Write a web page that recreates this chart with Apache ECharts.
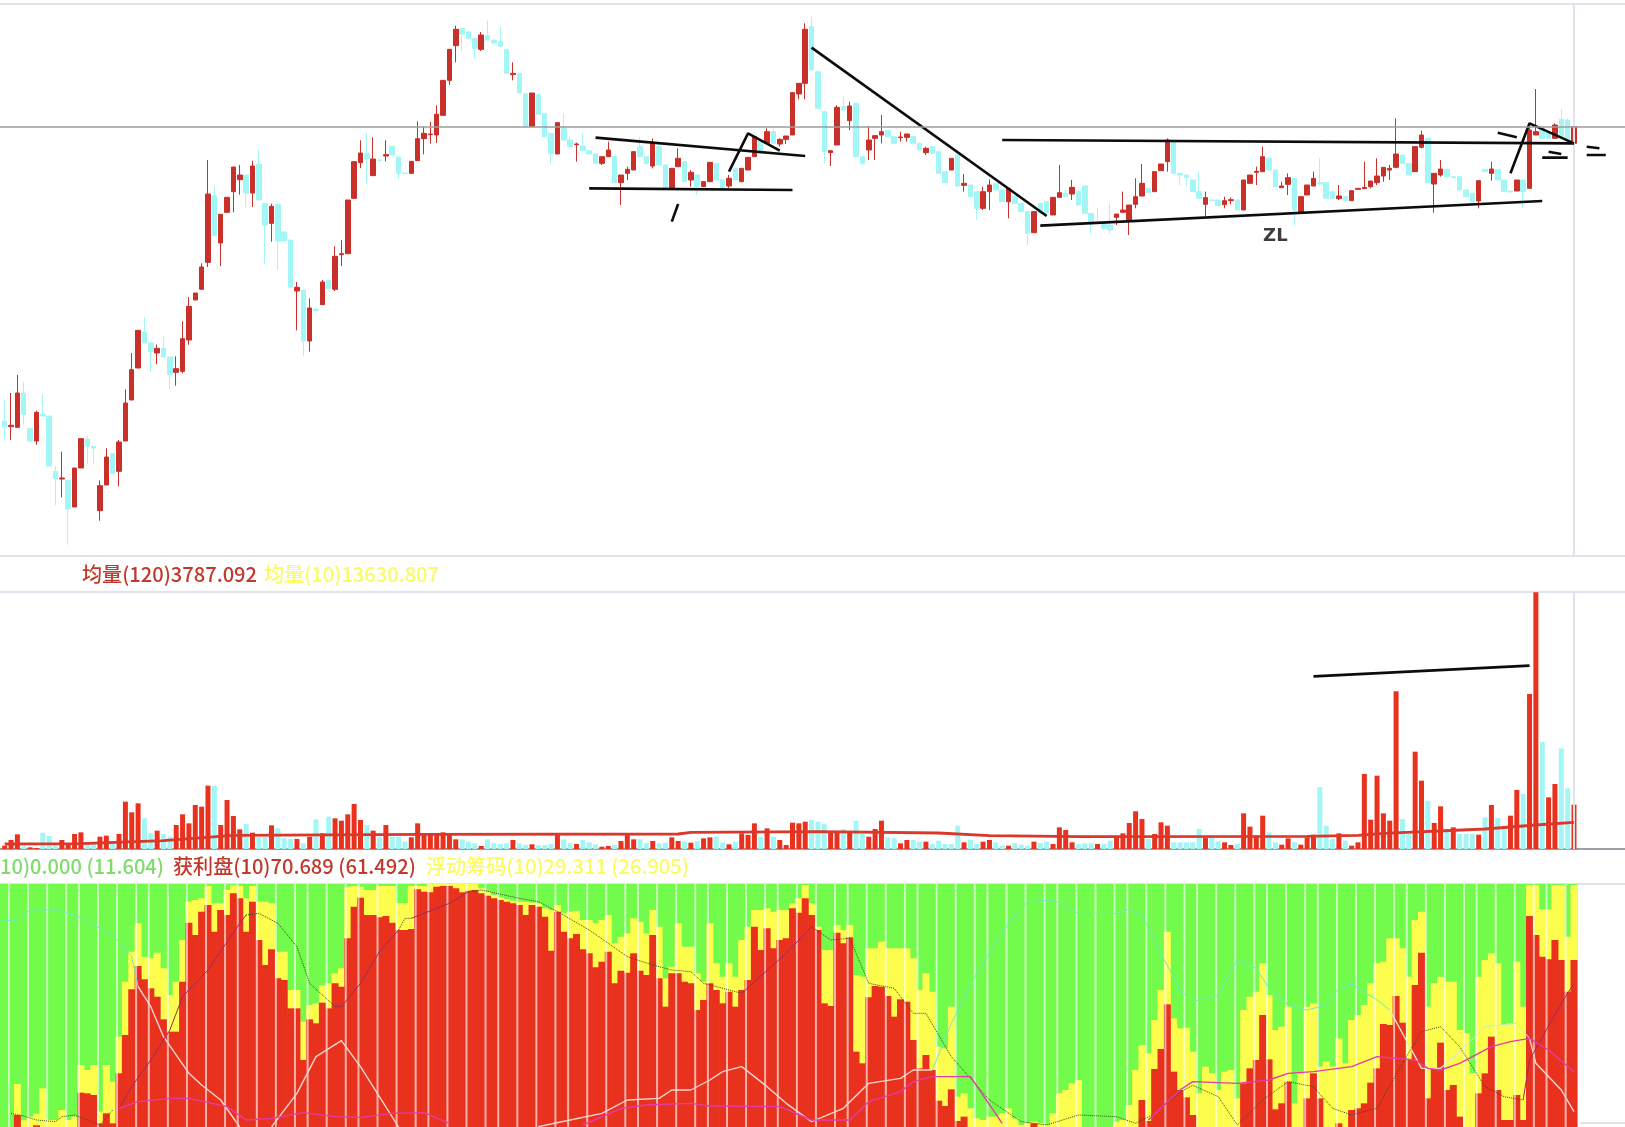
<!DOCTYPE html>
<html>
<head>
<meta charset="utf-8">
<style>
html,body{margin:0;padding:0;background:#fff;overflow:hidden}
#c{width:1625px;height:1127px;filter:blur(0.75px)}
</style>
<script src="https://cdn.jsdelivr.net/npm/echarts@6/dist/echarts.min.js"></script>
</head>
<body>
<div id="c"></div>
<script>
// open, close, low, high
const candles = [
[401,385,347,465],[385,389,345,486],[383,486,383,540],[486,422,390,519],[379,342,342,379],[342,428,331,433],[422,417,417,481],[417,267,267,417],[251,229,149,267],[228,231,173,310],
[224,138,31,224],[144,261,144,261],[261,349,261,349],[347,326,272,358],[326,321,272,326],[133,208,103,224],[210,294,210,320],[304,245,245,304],[251,339,206,345],[342,456,342,497],
[465,556,465,606],[561,674,561,674],[669,636,636,714],[636,610,549,636],[606,620,572,631],[620,594,594,658],[594,542,497,594],[548,559,508,596],[551,649,545,701],[645,746,631,774],
[765,786,765,786],[797,864,797,875],[878,1083,864,1185],[1078,958,958,1108],[936,1022,867,1022],[1028,1073,1028,1073],[1090,1164,1028,1164],[1126,1140,1081,1170],[1140,1086,1044,1140],[1086,1167,1044,1183],
[1172,1065,1065,1215],[1054,990,872,1054],[995,1046,940,1054],[1052,942,856,1052],[969,942,942,969],[945,803,803,945],[792,803,674,819],[795,642,596,795],[642,741,610,770],[738,733,733,738],
[751,819,751,825],[824,799,799,824],[797,896,792,926],[901,904,867,945],[904,1065,904,1065],[1070,1180,1070,1180],[1177,1206,1161,1244],[1204,1188,1113,1266],[1138,1188,1138,1253],[1185,1183,1183,1185],
[1197,1201,1181,1244],[1226,1200,1200,1226],[1194,1145,1129,1194],[1146,1144,1144,1146],[1145,1181,1145,1181],[1183,1249,1183,1301],[1249,1265,1202,1285],[1261,1263,1234,1299],[1260,1322,1236,1349],[1319,1424,1319,1424],
[1424,1517,1410,1517],[1528,1577,1478,1588],[1579,1563,1510,1579],[1569,1550,1550,1569],[1550,1520,1488,1550],[1517,1560,1512,1569],[1558,1545,1545,1603],[1545,1536,1536,1545],[1540,1526,1526,1585],[1517,1445,1445,1517],
[1441,1445,1424,1478],[1445,1386,1386,1445],[1384,1285,1285,1384],[1285,1386,1285,1386],[1381,1322,1322,1381],[1325,1255,1255,1325],[1265,1205,1175,1265],[1203,1297,1203,1297],[1285,1245,1245,1325],[1245,1225,1225,1255],
[1231,1233,1180,1237],[1227,1213,1213,1265],[1213,1203,1203,1213],[1203,1175,1175,1203],[1175,1195,1170,1195],[1195,1215,1195,1240],[1195,1117,1117,1195],[1117,1140,1050,1140],[1145,1157,1125,1165],[1155,1210,1155,1210],
[1225,1195,1195,1255],[1195,1175,1175,1195],[1167,1235,1160,1250],[1225,1170,1170,1235],[1170,1100,1100,1170],[1100,1160,1095,1160],[1165,1190,1165,1220],[1180,1120,1120,1180],[1125,1148,1105,1155],[1140,1105,1080,1140],
[1105,1120,1105,1120],[1120,1178,1120,1178],[1175,1125,1125,1175],[1125,1100,1100,1125],[1107,1130,1100,1140],[1160,1125,1125,1160],[1120,1160,1120,1160],[1155,1193,1155,1193],[1195,1255,1195,1255],[1245,1205,1205,1245],
[1235,1270,1235,1280],[1270,1235,1235,1285],[1233,1247,1225,1250],[1247,1257,1233,1257],[1260,1387,1260,1387],[1383,1415,1367,1415],[1415,1577,1367,1595],[1585,1455,1455,1615],[1450,1340,1340,1450],[1330,1210,1175,1330],
[1207,1213,1167,1213],[1230,1343,1230,1350],[1345,1335,1335,1375],[1303,1347,1275,1360],[1355,1195,1195,1355],[1195,1175,1170,1195],[1215,1245,1185,1287],[1250,1258,1185,1258],[1260,1270,1235,1320],[1273,1255,1255,1273],
[1255,1235,1235,1255],[1252,1254,1240,1270],[1253,1263,1240,1263],[1255,1235,1235,1255],[1235,1215,1215,1235],[1207,1220,1200,1225],[1225,1205,1205,1225],[1210,1145,1145,1210],[1150,1117,1117,1150],[1155,1190,1155,1190],
[1200,1107,1107,1200],[1109,1115,1090,1143],[1110,1075,1075,1110],[1090,1040,1005,1090],[1040,1090,1035,1105],[1090,1110,1035,1127],[1115,1095,1095,1115],[1095,1060,1060,1095],[1060,1100,1010,1100],[1075,1055,1055,1075],
[1055,1030,1030,1055],[1030,965,930,1030],[967,1030,967,1030],[1055,1025,1025,1055],[1060,1025,1025,1060],[1020,1073,1020,1073],[1073,1087,1073,1170],[1085,1075,1075,1095],[1083,1103,1065,1125],[1090,1050,1050,1095],
[1107,1025,1025,1107],[1025,995,965,1025],[1000,995,995,1040],[995,980,975,995],[990,975,965,1055],[1013,1023,990,1023],[1028,1035,1028,1090],[1005,1050,960,1050],[1052,1075,1040,1130],[1077,1115,1077,1173],
[1100,1088,1088,1100],[1090,1150,1090,1150],[1153,1173,1153,1173],[1180,1245,1150,1250],[1240,1145,1145,1240],[1145,1140,1110,1145],[1140,1133,1107,1140],[1125,1090,1090,1125],[1090,1070,1070,1150],[1052,1072,1017,1090],
[1065,1063,1063,1065],[1065,1048,1048,1065],[1051,1063,1040,1075],[1063,1066,1052,1073],[1065,1035,1035,1065],[1035,1125,1035,1125],[1115,1140,1115,1140],[1148,1151,1110,1165],[1150,1195,1150,1225],[1190,1155,1155,1190],
[1155,1105,1105,1155],[1102,1107,1102,1120],[1112,1132,1080,1145],[1130,1035,990,1130],[1027,1075,1027,1075],[1080,1110,1080,1110],[1107,1130,1107,1150],[1117,1113,1113,1190],[1117,1070,1070,1117],[1090,1070,1070,1090],
[1069,1077,1065,1110],[1075,1063,1063,1075],[1063,1093,1063,1093],[1097,1100,1097,1100],[1099,1103,1099,1180],[1105,1122,1100,1122],[1117,1137,1110,1190],[1137,1163,1120,1163],[1155,1160,1125,1170],[1163,1203,1160,1310],
[1200,1175,1175,1200],[1175,1140,1140,1175],[1150,1225,1150,1225],[1223,1260,1220,1273],[1250,1117,1117,1250],[1113,1145,1027,1145],[1140,1158,1135,1185],[1157,1135,1135,1157],[1135,1132,1132,1135],[1135,1095,1095,1135],
[1095,1075,1075,1095],[1085,1060,1060,1085],[1062,1123,1040,1123],[1157,1150,1150,1157],[1145,1158,1123,1180],[1157,1125,1125,1157],[1125,1090,1090,1125],[1092,1089,1089,1092],[1092,1125,1092,1125],[1125,1090,1040,1125],
[1100,1275,1100,1290],[1260,1270,1260,1398],[1280,1250,1250,1280],[1270,1250,1250,1270],[1250,1290,1250,1295],[1307,1250,1250,1337],[1305,1235,1235,1310],[1235,1285,1235,1285]
];
const volumes = [
10,27,44,8,5,3,49,39,15,27, 15,45,50,18,20,37,40,20,45,142, 110,137,92,47,55,45,37,72,104,77,
132,127,190,190,72,147,99,59,75,49, 35,37,71,62,32,30,30,17,37,89, 47,97,92,85,104,135,87,72,55,37,
72,37,37,22,35,77,42,47,44,50, 42,29,29,22,17,9,29,17,15,17, 27,17,12,14,12,12,15,42,29,17,
15,27,20,14,7,9,12,24,42,29, 29,17,24,17,19,35,24,22,19,24, 32,35,37,19,14,22,47,42,77,37,
62,37,27,12,79,77,82,87,82,75, 50,50,60,53,85,45,37,60,85,35, 32,17,27,27,22,22,15,25,15,15,
70,20,27,15,22,27,20,10,10,18, 13,10,22,18,22,15,65,57,20,15, 17,17,15,15,25,35,47,78,113,90,
30,45,80,70,20,20,20,20,60,33, 40,23,20,12,15,107,67,40,100,50, 20,13,32,20,13,35,43,185,70,30,
47,25,10,20,225,88,220,107,85,473, 90,45,292,205,145,78,128,60,65,45, 45,45,43,95,132,93,60,100,177,165,
465,770,322,155,195,302,182,133
];
// bars whose volume is drawn red; every other one is cyan
const volumeRedIdx = [0,1,2,4,5,9,10,11,12,15,16,18,19,20,21,24,27,28,29,30,31,32,34,35,36,37,39,42,46,48,50,52,53,54,55,56,58,60,64,65,66,67,68,69,70,71,75,80,83,87,90,94,95,97,98,99,102,105,106,108,110,111,114,116,117,118,120,122,123,124,125,126,130,131,133,136,137,138,141,142,145,151,154,155,158,162,165,166,167,168,172,175,176,177,178,179,181,182,183,189,192,193,195,196,197,198,201,202,204,205,206,210,212,213,214,215,216,217,218,219,222,223,225,226,228,232,234,237,238,240,241,243,244,247];
const volumeMa120 = [[0,15],[12,16],[25,25],[36,41],[66,44],[106,45],[108,50],[128,52],[147,48],[155,40],[169,37],[205,38],[213,41],[217,47],[233,60],[241,72],[247,80]];

const profitChips = [
0,0,36,0,0,5,0,0,0,0, 0,0,103,101,96,11,41,11,161,276, 413,483,443,416,391,323,286,286,436,613,
576,646,666,586,651,636,701,686,586,676, 561,486,533,446,441,356,356,201,323,311, 373,356,431,421,566,661,688,636,636,629,
633,613,591,591,594,713,706,704,721,723, 723,716,704,709,711,701,694,686,681,676, 671,666,636,666,661,631,529,646,586,566,
579,533,521,479,496,526,431,469,463,521, 469,456,576,446,361,461,461,436,431,351, 381,431,411,371,406,361,411,441,601,531,
596,536,561,566,656,643,686,636,591,371, 363,583,551,569,226,191,389,423,421,393, 331,383,376,261,176,216,171,79,63,113,
18,31,0,0,0,0,0,0,0,0, 0,0,11,0,0,0,0,0,0,0, 0,0,0,0,0,0,0,0,0,81,
18,174,234,368,166,111,89,36,0,0, 0,0,0,0,0,131,176,201,336,203, 53,71,136,0,0,86,161,86,0,0,
11,0,51,56,71,133,176,309,306,393, 313,204,426,523,86,176,253,111,126,31, 0,0,101,161,271,111,21,21,96,21,
633,576,511,503,561,501,406,501
];
const profitPlusFloating = [
0,0,129,20,31,40,116,21,21,51, 21,31,186,171,186,46,186,136,271,436, 526,611,511,506,523,476,396,436,561,676,
681,686,723,671,671,711,726,723,686,723, 676,676,671,526,526,411,411,316,366,371, 426,431,461,476,721,723,721,711,711,723,
723,723,671,671,723,723,723,729,729,729, 729,729,729,729,729,716,706,696,689,683, 679,676,676,673,671,656,651,666,641,646,
649,621,621,611,621,636,551,571,581,626, 616,581,651,601,446,481,611,541,541,461, 436,611,491,451,491,451,561,601,651,651,
656,646,651,651,671,686,726,671,601,531, 531,606,591,606,456,451,536,536,556,536, 536,536,536,506,411,461,406,241,236,361,
91,101,56,26,21,31,31,41,56,26, 6,11,16,11,6,41,101,111,131,141, 0,0,0,0,0,16,21,66,171,246,
221,321,411,586,326,296,298,226,101,181, 161,111,166,171,86,351,391,406,491,396, 291,301,361,71,161,361,371,181,196,181,
266,191,321,336,366,431,491,496,566,566, 536,451,621,646,361,431,451,436,436,291, 281,161,451,501,521,491,306,311,496,361,
726,726,653,653,726,726,571,726
];
const stripeBars = [1,4,7,10,12,15,18,21,23,26,29,32,35,37,40,43,46,48,51,54,56,59,62,65,67,70,73,76,78,81,84,87,89,92,95,98,100,103,106,109,111,114,117,120,122,125,128,131,133,136,139,142,144,147,150,153,155,158,161,164,166,169,172,175,177,180,183,186,188,191,194,197,199,202,205,207,210,213,216,219,221,224,227,230,232,235,238,241,243,246];

const trappedMaA = [[0,619],[2,621],[4,651],[8,651],[11,636],[15,596],[17,576],[20,511],[21,421]];
const trappedMaB = [[146,171],[149,311],[153,461],[158,611],[161,676],[165,681],[169,641],[175,641],[177,653],[179,636],[182,521],[185,411],[187,376],[191,396],[194,501],[197,476],[199,416],[202,366],[205,351],[208,366],[210,416],[212,429],[216,381],[218,351]];
const trappedMaC = [[229,226],[233,301],[238,311],[240,266]];
const whiteMaA = [[21,421],[23,361],[25,271],[29,161],[31,126],[34,81],[37,0]];
const whiteMaB = [[42,0],[46,101],[49,211],[53,259],[56,181],[62,0]];
const whiteMaC = [[84,1],[89,21],[94,41],[98,81],[103,86],[105,111],[108,111],[111,141],[113,166],[116,181],[120,121],[123,71],[127,16],[132,56],[136,131],[141,146],[143,171],[146,171]];
const whiteMaD = [[218,351],[222,211],[223,176],[226,176],[229,226]];
const whiteMaE = [[240,266],[241,191],[245,111],[247,46]];
const darkMaA = [[1,41],[3,33],[5,21],[8,16],[9,31],[11,36],[15,6],[17,51]];
const darkMaB = [[38,636],[40,641],[43,611],[46,541],[48,431],[52,361]];
const darkMaC = [[62,591],[63,626],[64,626]];
const darkMaD = [[73,706],[75,711],[81,686],[84,676],[87,646],[92,591],[98,511],[102,486],[105,471],[108,466],[110,431],[114,411],[116,401]];
const darkMaE = [[127,601],[130,561],[133,566],[136,431],[140,416],[143,341],[145,341],[149,211],[155,81],[160,16],[164,6],[169,36],[175,31],[178,11],[181,40],[185,105],[187,125],[191,91],[194,6],[198,81],[202,136],[206,121],[209,56],[212,36],[216,56],[220,191],[223,286],[226,301],[229,241],[233,121],[236,91],[239,81]];
const purpleMaA = [[18,56],[20,121],[23,201],[26,291],[28,391],[32,471],[37,611],[38,636]];
const purpleMaB = [[52,361],[53,361],[56,431],[59,526],[62,591]];
const purpleMaC = [[64,626],[70,671],[73,706]];
const purpleMaD = [[116,401],[123,521],[127,601]];
const purpleMaE = [[239,81],[240,201],[245,371],[247,431]];
const magentaMaA = [[18,56],[21,76],[26,86],[29,86],[35,61],[38,21],[42,26],[47,43],[52,31],[56,29],[61,41],[66,43],[70,11]];
const magentaMaB = [[91,6],[97,56],[101,66],[108,71],[111,63],[122,61],[127,21],[133,21],[136,76],[141,106],[143,136],[146,151],[152,151],[157,11]];
const magentaMaC = [[180,21],[185,111],[187,136],[194,131],[199,141],[202,161],[206,166],[212,181],[216,211],[222,201],[224,176],[226,171],[229,191],[234,241],[237,256],[240,266],[243,231],[247,166]];

const priceLevel = 1284;
const flagUpper = [[93,1252],[126,1197]];
const flagLower = [[92,1100],[124,1095]];
const flagSwing = [[114,1150],[117,1265],[122,1213]];
const flagMark = [[105,1000],[106,1053]];
const declineLine = [[127,1522],[164,1017]];
const rangeUpper = [[157,1245],[247,1235]];
const rangeLower = [[163,988],[242,1062]];
const endSwing = [[237,1145],[240,1295],[247,1235]];
const endTick = [[235,1267],[238,1253]];
const markEqA1 = [[243,1210],[245,1203]];
const markEqA2 = [[242,1192],[246,1192]];
const markEqB1 = [[249,1225],[251,1220]];
const markEqB2 = [[249,1200],[252,1200]];
const volumeTrend = [[206,518],[240,550]];
const zlLabel = [[200,955,'ZL']];

const categories = Array.from({length:256}, (_,i)=>'D'+i);
const RED='#c9302a', BARRED='#e8321e', CYAN='#a3f6f6', GREEN='#72fb4a', YELLOW='#fdfd4e';
const EDGE='#dfe3ec';
const redSet = new Set(volumeRedIdx);
const xAxisBase = i => ({type:'category',gridIndex:i,data:categories,boundaryGap:true,
  axisLabel:{show:false},axisTick:{show:false},splitLine:{show:false},axisLine:{show:false}});
const yAxisBase = (i,max) => ({type:'value',gridIndex:i,min:0,max:max,show:false,splitLine:{show:false}});
const stroke = (data,x,color,width,dash,z) => ({type:'line',xAxisIndex:x,yAxisIndex:x,data:data,showSymbol:false,silent:true,
  z:z||6,lineStyle:{color:color,width:width,type:dash||'solid'},itemStyle:{color:color},animation:false});
const ma = (data,color,dash,w) => stroke(data,2,color,w||1,dash,5);
const ink = data => stroke(data,0,'#0c0c0c',2.6,'solid',8);

const chart = echarts.init(document.getElementById('c'),null,{renderer:'canvas'});
const fam = '"Noto Sans CJK SC","Noto Sans",sans-serif';
const ttl = (text,left,top,color) => ({text,left,top,textStyle:{color,fontSize:20.1,fontWeight:500,fontFamily:fam},padding:0});
chart.setOption({
  animation:false,
  backgroundColor:'#ffffff',
  title:[
    ttl('均量(120)3787.092',82,564,'#c2392c'),
    ttl('均量(10)13630.807',264,564,'#fbfb62'),
    ttl('10)0.000 (11.604)',0,856,'#7fdc6c'),
    ttl('获利盘(10)70.689 (61.492)',173,856,'#c2392c'),
    ttl('浮动筹码(10)29.311 (26.905)',426,856,'#fbfb62')
  ],
  grid:[
    {left:1.5,width:1626.5,top:4,height:551,outerBoundsMode:'none'},
    {left:1.5,width:1626.5,top:592,height:257,outerBoundsMode:'none'},
    {left:1.5,width:1626.5,top:884,height:243,outerBoundsMode:'none'}
  ],
  xAxis:[xAxisBase(0),xAxisBase(1),xAxisBase(2)],
  yAxis:[yAxisBase(0,1653),yAxisBase(1,771),yAxisBase(2,729)],
  series:[
    {type:'candlestick',xAxisIndex:0,yAxisIndex:0,data:candles,barWidth:5,z:3,
      itemStyle:{color:RED,color0:CYAN,borderColor:RED,borderColor0:CYAN,borderWidth:1},
      markLine:{silent:true,symbol:'none',label:{show:false},animation:false,
        data:[{xAxis:categories[247],lineStyle:{color:EDGE,width:2,type:'solid'}}]}},
    ink(flagUpper),ink(flagLower),ink(flagSwing),ink(flagMark),ink(declineLine),ink(rangeUpper),ink(rangeLower),ink(endSwing),ink(endTick),
    ink(markEqA1),ink(markEqA2),ink(markEqB1),ink(markEqB2),
    {type:'scatter',xAxisIndex:0,yAxisIndex:0,data:zlLabel,symbolSize:0,silent:true,z:9,
      label:{show:true,position:'inside',formatter:p=>p.data[2],color:'#0c0c0c',fontSize:18,fontWeight:'bold',fontFamily:'"DejaVu Sans",sans-serif'}},

    {type:'bar',xAxisIndex:1,yAxisIndex:1,barWidth:5,z:3,
      data:volumes.map((v,i)=>({value:v,itemStyle:{color:redSet.has(i)?BARRED:CYAN}})),
      markLine:{silent:true,symbol:'none',label:{show:false},animation:false,
        data:[{xAxis:categories[247],lineStyle:{color:EDGE,width:2,type:'solid'}}]}},
    stroke(volumeMa120,1,'#d9382a',2.8),
    stroke(volumeTrend,1,'#0c0c0c',2.6,'solid',8),

    {type:'bar',xAxisIndex:2,yAxisIndex:2,barWidth:7,barGap:'-100%',z:2,
      data:candles.map(()=>729),itemStyle:{color:GREEN}},
    {type:'bar',xAxisIndex:2,yAxisIndex:2,barWidth:7,barGap:'-100%',z:2,
      data:profitPlusFloating,itemStyle:{color:YELLOW}},
    {type:'bar',xAxisIndex:2,yAxisIndex:2,barWidth:7,barGap:'-100%',z:2,
      data:profitChips,itemStyle:{color:BARRED}},
    {type:'custom',xAxisIndex:2,yAxisIndex:2,z:3,silent:true,data:stripeBars.map(i=>[i]),encode:{x:0},
      renderItem:(p,api)=>{
        const top=api.coord([api.value(0),729]), bot=api.coord([api.value(0),0]);
        return {type:'rect',shape:{x:top[0]-3,y:top[1],width:2,height:bot[1]-top[1]},style:{fill:'rgba(255,255,255,0.62)'}};
      }},
    ma(trappedMaA,'#6fe9c9'),ma(trappedMaB,'#6fe9c9'),ma(trappedMaC,'#c6efc0'),
    ma(whiteMaA,'#f6d7d0',null,1.4),ma(whiteMaB,'#f6d7d0',null,1.4),ma(whiteMaC,'#f6d7d0',null,1.4),ma(whiteMaD,'#e8e4d0',null,1.4),ma(whiteMaE,'#f6d7d0',null,1.4),
    ma(darkMaA,'#3b5a28','dotted'),ma(darkMaB,'#2c4a20','dotted'),ma(darkMaC,'#3b4a20','dotted'),ma(darkMaD,'#3b4a20','dotted'),ma(darkMaE,'#3b4a20','dotted'),
    ma(purpleMaA,'#9a2a62'),ma(purpleMaB,'#9a2a62'),ma(purpleMaC,'#9a2a62'),ma(purpleMaD,'#9a2a62'),ma(purpleMaE,'#9a2a62'),
    ma(magentaMaA,'#e23ca8',null,1.4),ma(magentaMaB,'#e23ca8',null,1.4),ma(magentaMaC,'#e23ca8',null,1.4)
  ]
});
// full-width frame rules and the level line, placed through the chart's own scales
const rule = (y,color,w) => ({type:'line',z:1,silent:true,shape:{x1:0,y1:y,x2:1625,y2:y},style:{stroke:color,lineWidth:w}});
const levelY = chart.convertToPixel({yAxisIndex:0},priceLevel);
const baseY = v => chart.convertToPixel({yAxisIndex:v},0);
chart.setOption({graphic:{elements:[
  rule(4,EDGE,2), rule(baseY(0)+1,EDGE,2), rule(592,EDGE,2), rule(884,EDGE,2),
  rule(baseY(1),'#9aa0a8',2),
  {type:'line',silent:true,z:10,shape:{x1:0,y1:levelY,x2:1625,y2:levelY},style:{stroke:'#9c9c9c',lineWidth:1.5}},
  {type:'line',silent:true,z:1,shape:{x1:1580,y1:1123,x2:1625,y2:1123},style:{stroke:EDGE,lineWidth:2}},
  {type:'rect',silent:true,z:1,shape:{x:0,y:884,width:3,height:243},style:{fill:GREEN}}
]}});
</script>
</body>
</html>
